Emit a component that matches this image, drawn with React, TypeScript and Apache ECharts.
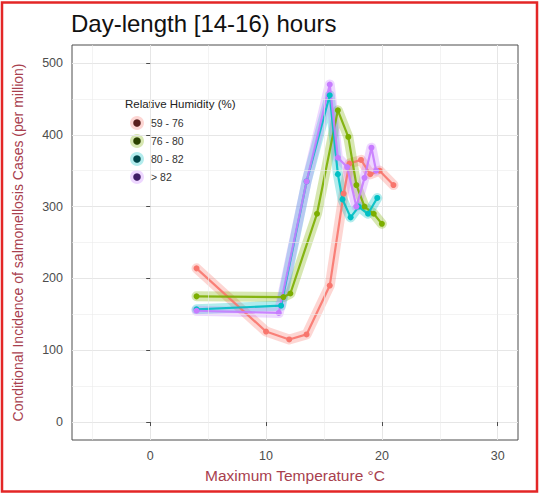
import React, { useEffect, useRef } from "react";
import * as echarts from "echarts";

// Maximum temperature (°C) and conditional incidence (cases per million) by humidity band
const temp59to76 = [4, 10, 12, 13.5, 15.5, 16.7, 17.2, 18.2, 19, 19.8, 21];
const cases59to76 = [214, 126, 115, 122, 190, 318, 360, 365, 345, 350, 330];

const temp76to80 = [4, 11.5, 12.1, 14.4, 16.2, 17.1, 17.8, 18.5, 19.3, 20];
const cases76to80 = [175, 174, 179, 290, 434, 397, 330, 300, 290, 276];

const temp80to82 = [4, 11.3, 13.5, 15.5, 16.2, 16.6, 17.3, 18, 18.8, 19.6];
const cases80to82 = [157, 162, 335, 455, 345, 310, 285, 300, 290, 312];

const tempAbove82 = [4, 11.1, 13.5, 15.5, 16.2, 17, 17.8, 18.5, 19.1, 19.5];
const casesAbove82 = [155, 152, 335, 470, 368, 355, 300, 340, 382, 350];

const humidityLabels = ["59 - 76", "76 - 80", "80 - 82", "> 82"];
const xTicks = [0, 10, 20, 30];
const yTicks = [0, 100, 200, 300, 400, 500];
const xMinorGrid = [-5, 5, 15, 25];
const yMinorGrid = [50, 150, 250, 350, 450];

const FONT = "'Liberation Sans', Arial, Helvetica, sans-serif";
const lineColors = ["#F8766D", "#7CAE00", "#00BFC4", "#C77CFF"];
const keyColors = ["#5a1f1d", "#2b4200", "#00474b", "#3f1d66"];

const groups = [
  { name: humidityLabels[0], x: temp59to76, y: cases59to76 },
  { name: humidityLabels[1], x: temp76to80, y: cases76to80 },
  { name: humidityLabels[2], x: temp80to82, y: cases80to82 },
  { name: humidityLabels[3], x: tempAbove82, y: casesAbove82 },
];

const pairs = (xs: number[], ys: number[]) => xs.map((v, i) => [v, ys[i]]);

function buildOption() {
  const ribbons = groups.map((g, i) => ({
    type: "line",
    name: g.name + " band",
    data: pairs(g.x, g.y),
    showSymbol: false,
    silent: true,
    z: 2,
    lineStyle: {
      color: lineColors[i],
      width: 10,
      opacity: 0.3,
      cap: "round",
      join: "round",
    },
  }));

  const lines = groups.map((g, i) => ({
    type: "line",
    name: g.name,
    data: pairs(g.x, g.y),
    symbol: "circle",
    symbolSize: 6,
    z: 3,
    itemStyle: { color: lineColors[i] },
    lineStyle: { color: lineColors[i], width: 2.2, opacity: 0.9 },
  }));

  const minorGrid = {
    type: "line",
    name: "minor grid",
    data: [],
    silent: true,
    z: 1,
    markLine: {
      silent: true,
      symbol: ["none", "none"],
      label: { show: false },
      lineStyle: { color: "#ebebeb", width: 0.6, type: "solid" },
      data: [
        ...xMinorGrid.map((v) => ({ xAxis: v })),
        ...yMinorGrid.map((v) => ({ yAxis: v })),
      ],
    },
  };

  const legendTop = 123;
  const legendStep = 18;
  const legendGraphics: any[] = [
    {
      type: "text",
      x: 125,
      y: 104,
      silent: true,
      style: {
        text: "Relative Humidity (%)",
        font: `11.5px ${FONT}`,
        fill: "#222",
        textVerticalAlign: "middle",
        verticalAlign: "middle",
      },
    },
  ];
  humidityLabels.forEach((label, i) => {
    const cy = legendTop + i * legendStep;
    legendGraphics.push(
      {
        type: "circle",
        silent: true,
        shape: { cx: 137, cy, r: 7 },
        style: { fill: lineColors[i], opacity: 0.3 },
      },
      {
        type: "circle",
        silent: true,
        shape: { cx: 137, cy, r: 3.8 },
        style: { fill: keyColors[i] },
      },
      {
        type: "text",
        silent: true,
        x: 151,
        y: cy,
        style: {
          text: label,
          font: `10.5px ${FONT}`,
          fill: "#333",
          textVerticalAlign: "middle",
          verticalAlign: "middle",
        },
      }
    );
  });

  return {
    animation: false,
    backgroundColor: "#ffffff",
    textStyle: { fontFamily: FONT },
    title: {
      text: "Day-length [14-16) hours",
      left: 66,
      top: 6,
      textStyle: { fontFamily: FONT, fontSize: 24, fontWeight: "normal", color: "#111" },
    },
    grid: {
      left: 72,
      top: 45,
      right: 22,
      bottom: 55,
      show: true,
      backgroundColor: "#ffffff",
      borderColor: "#4d4d4d",
      borderWidth: 1,
      containLabel: false,
      outerBoundsMode: "none",
    },
    xAxis: {
      type: "value",
      min: -6.75,
      max: 31.75,
      splitNumber: 4,
      name: "Maximum Temperature °C",
      nameLocation: "middle",
      nameGap: 27,
      nameTextStyle: { color: "#a8404e", fontSize: 15.5, fontFamily: FONT },
      axisLine: { show: false },
      axisTick: {
        show: true,
        length: 4,
        customValues: xTicks,
        lineStyle: { color: "#4d4d4d" },
      },
      axisLabel: {
        color: "#4d4d4d",
        fontSize: 12.5,
        margin: 9,
        customValues: xTicks,
        fontFamily: FONT,
      },
      splitLine: { show: true, lineStyle: { color: "#e6e6e6", width: 1 } },
    },
    yAxis: {
      type: "value",
      min: -25,
      max: 525,
      splitNumber: 5,
      name: "Conditional Incidence of salmonellosis Cases (per million)",
      nameLocation: "middle",
      nameGap: 47,
      nameTextStyle: { color: "#a8404e", fontSize: 14, fontFamily: FONT },
      axisLine: { show: false },
      axisTick: {
        show: true,
        length: 4,
        customValues: yTicks,
        lineStyle: { color: "#4d4d4d" },
      },
      axisLabel: {
        color: "#4d4d4d",
        fontSize: 12.5,
        margin: 9,
        customValues: yTicks,
        fontFamily: FONT,
      },
      splitLine: { show: true, lineStyle: { color: "#e6e6e6", width: 1 } },
    },
    graphic: [
      ...legendGraphics,
      {
        type: "rect",
        silent: true,
        z: 100,
        shape: { x: 2, y: 2.5, width: 535, height: 489 },
        style: { fill: "none", stroke: "#e32626", lineWidth: 2.5 },
      },
    ],
    series: [minorGrid, ...ribbons, ...lines],
  };
}

export default function App() {
  const ref = useRef<HTMLDivElement>(null);
  useEffect(() => {
    if (!ref.current) return;
    const chart = echarts.init(ref.current, null, { renderer: "svg" });
    chart.setOption(buildOption() as any);
    return () => chart.dispose();
  }, []);
  return (
    <div
      ref={ref}
      style={{ position: "fixed", left: 0, top: 0, width: 540, height: 495, background: "#fff" }}
    />
  );
}
